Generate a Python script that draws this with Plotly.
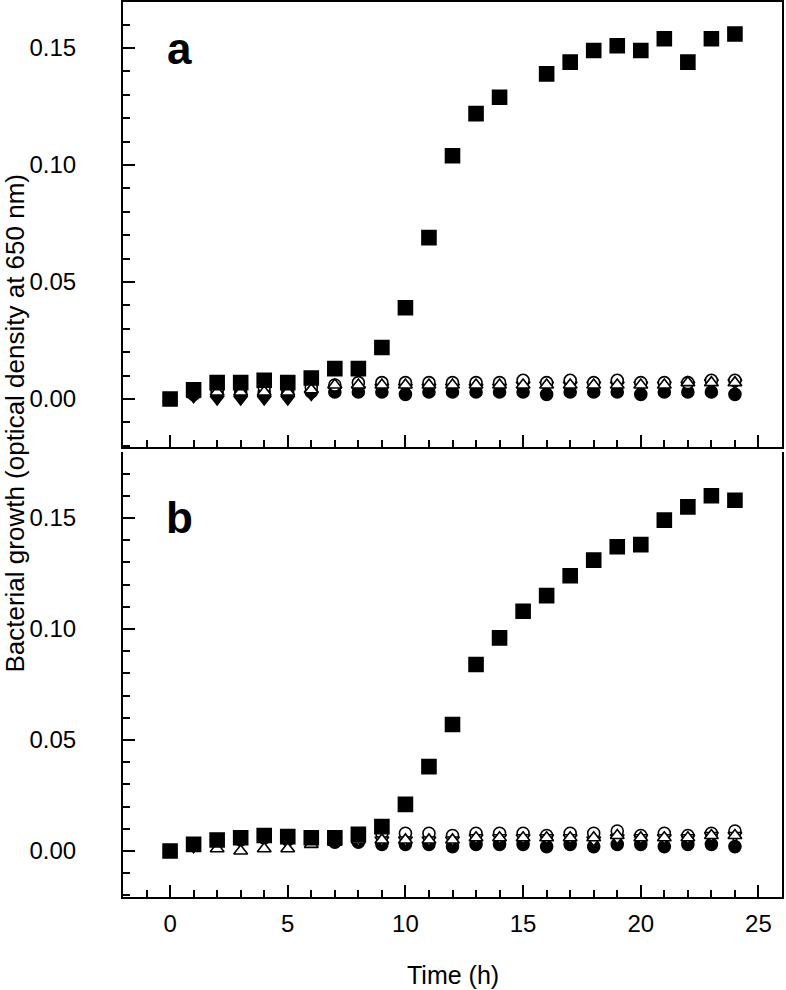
import plotly.graph_objects as go

# time points (h)
hours = list(range(25))

# panel a: optical density at 650 nm
a_square = [0.000, 0.004, 0.007, 0.007, 0.008, 0.007, 0.009, 0.013, 0.013, 0.022,
            0.039, 0.069, 0.104, 0.122, 0.129, None, 0.139, 0.144, 0.149, 0.151,
            0.149, 0.154, 0.144, 0.154, 0.156]
a_open_circle = [0.000, 0.003, 0.004, 0.005, 0.005, 0.005, 0.005, 0.006, 0.007, 0.007,
                 0.007, 0.007, 0.007, 0.007, 0.007, 0.008, 0.007, 0.008, 0.007, 0.008,
                 0.007, 0.007, 0.007, 0.008, 0.008]
a_filled_circle = [0.000, 0.002, 0.003, 0.003, 0.003, 0.003, 0.003, 0.003, 0.003, 0.003,
                   0.002, 0.003, 0.003, 0.003, 0.003, 0.003, 0.002, 0.003, 0.003, 0.003,
                   0.002, 0.003, 0.003, 0.003, 0.002]
a_open_tri_up = [0.000, 0.002, 0.003, 0.003, 0.003, 0.003, 0.004, 0.006, 0.006, 0.006,
                 0.006, 0.006, 0.006, 0.006, 0.006, 0.006, 0.006, 0.006, 0.006, 0.006,
                 0.006, 0.006, 0.007, 0.007, 0.007]
a_filled_tri_down = [0.000, 0.001, 0.000, 0.000, 0.000, 0.000, 0.002, 0.004, 0.004, 0.005,
                     0.005, 0.005, 0.005, 0.005, 0.005, 0.006, 0.006, 0.006, 0.006, 0.006,
                     0.006, 0.006, 0.006, 0.007, 0.007]

# panel b
b_square = [0.000, 0.003, 0.005, 0.006, 0.007, 0.0065, 0.006, 0.006, 0.0075, 0.011,
            0.021, 0.038, 0.057, 0.084, 0.096, 0.108, 0.115, 0.124, 0.131, 0.137,
            0.138, 0.149, 0.155, 0.160, 0.158]
b_open_circle = [0.000, 0.003, 0.005, 0.006, 0.006, 0.006, 0.006, 0.006, 0.007, 0.008,
                 0.008, 0.008, 0.007, 0.008, 0.008, 0.008, 0.007, 0.008, 0.008, 0.009,
                 0.007, 0.008, 0.007, 0.008, 0.009]
b_filled_circle = [0.000, 0.003, 0.004, 0.005, 0.006, 0.005, 0.005, 0.004, 0.004, 0.003,
                   0.003, 0.003, 0.002, 0.003, 0.003, 0.003, 0.002, 0.003, 0.002, 0.003,
                   0.003, 0.002, 0.003, 0.003, 0.002]
b_open_tri_up = [0.000, 0.002, 0.001, 0.000, 0.001, 0.001, 0.003, 0.004, 0.005, 0.005,
                 0.005, 0.005, 0.005, 0.006, 0.006, 0.006, 0.006, 0.006, 0.006, 0.007,
                 0.006, 0.006, 0.006, 0.007, 0.007]
b_open_tri_down = [0.000, 0.002, 0.004, 0.005, 0.005, 0.005, 0.005, 0.005, 0.005, 0.005,
                   0.005, 0.005, 0.005, 0.006, 0.006, 0.006, 0.006, 0.006, 0.005, 0.006,
                   0.006, 0.006, 0.006, 0.007, 0.007]

x_ticks = [0, 5, 10, 15, 20, 25]
y_ticks = [0.00, 0.05, 0.10, 0.15]
y_tick_labels = ["0.00", "0.05", "0.10", "0.15"]

FONT = "Liberation Sans, Arial, sans-serif"

fig = go.Figure()


def add_series(y, symbol, filled, xa, ya, size=13):
    fig.add_trace(
        go.Scatter(
            x=hours,
            y=y,
            mode="markers",
            xaxis=xa,
            yaxis=ya,
            marker=dict(
                symbol=symbol,
                size=size,
                color="black" if filled else "white",
                line=dict(color="black", width=1.6),
            ),
            showlegend=False,
        )
    )


# panel a
add_series(a_filled_circle, "circle", True, "x", "y", 12)
add_series(a_filled_tri_down, "triangle-down", True, "x", "y", 12)
add_series(a_open_circle, "circle", False, "x", "y", 12)
add_series(a_open_tri_up, "triangle-up", False, "x", "y", 12)
add_series(a_square, "square", True, "x", "y", 14)

# panel b
add_series(b_filled_circle, "circle", True, "x2", "y2", 12)
add_series(b_open_circle, "circle", False, "x2", "y2", 12)
add_series(b_open_tri_down, "triangle-down", False, "x2", "y2", 12)
add_series(b_open_tri_up, "triangle-up", False, "x2", "y2", 12)
add_series(b_square, "square", True, "x2", "y2", 14)

xcommon = dict(
    range=[-2, 26],
    tickvals=x_ticks,
    ticks="inside",
    ticklen=12,
    tickwidth=2,
    tickcolor="black",
    showline=True,
    linecolor="black",
    linewidth=2,
    showgrid=False,
    zeroline=False,
    automargin=False,
    minor=dict(dtick=1, ticks="inside", ticklen=7, tickwidth=2, tickcolor="black"),
)
ycommon = dict(
    tickvals=y_ticks,
    ticktext=y_tick_labels,
    ticks="inside",
    ticklen=12,
    tickwidth=2,
    tickcolor="black",
    showline=True,
    mirror=True,
    linecolor="black",
    linewidth=2,
    showgrid=False,
    zeroline=False,
    automargin=False,
    ticklabelstandoff=40,
    tickfont=dict(size=24, color="black", family=FONT),
    minor=dict(dtick=0.01, ticks="inside", ticklen=7, tickwidth=2, tickcolor="black"),
)

h_dom = 445 / 895
fig.update_layout(
    width=786,
    height=990,
    margin=dict(l=123, r=4, t=2, b=93),
    plot_bgcolor="white",
    paper_bgcolor="white",
    font=dict(family=FONT, color="black"),
    xaxis=dict(xcommon, domain=[0, 1], anchor="y", showticklabels=False, mirror=True),
    yaxis=dict(ycommon, domain=[1 - h_dom, 1], anchor="x", range=[-0.0205, 0.1697]),
    xaxis2=dict(xcommon, domain=[0, 1], anchor="y2", showticklabels=True,
                tickfont=dict(size=24, color="black", family=FONT), ticklabelstandoff=4),
    yaxis2=dict(ycommon, domain=[0, h_dom], anchor="x2", range=[-0.0207, 0.1797]),
)

# panel letters
fig.add_annotation(x=0.42, y=0.15, xref="x", yref="y", text="<b>a</b>", showarrow=False,
                   font=dict(size=44, color="black", family=FONT))
fig.add_annotation(x=0.42, y=0.15, xref="x2", yref="y2", text="<b>b</b>", showarrow=False,
                   font=dict(size=44, color="black", family=FONT))

# axis titles
fig.add_annotation(x=-0.164, y=0.53, xref="paper", yref="paper", textangle=-90,
                   xanchor="center", yanchor="middle",
                   text="Bacterial growth (optical density at 650 nm)", showarrow=False,
                   font=dict(size=26, color="black", family=FONT))
fig.add_annotation(x=0.5, y=-0.087, xref="paper", yref="paper", text="Time (h)",
                   xanchor="center", yanchor="middle",
                   showarrow=False, font=dict(size=25, color="black", family=FONT))

fig.write_html("out.html", config={"displayModeBar": False},
               post_script="document.body.style.margin='0px';")
